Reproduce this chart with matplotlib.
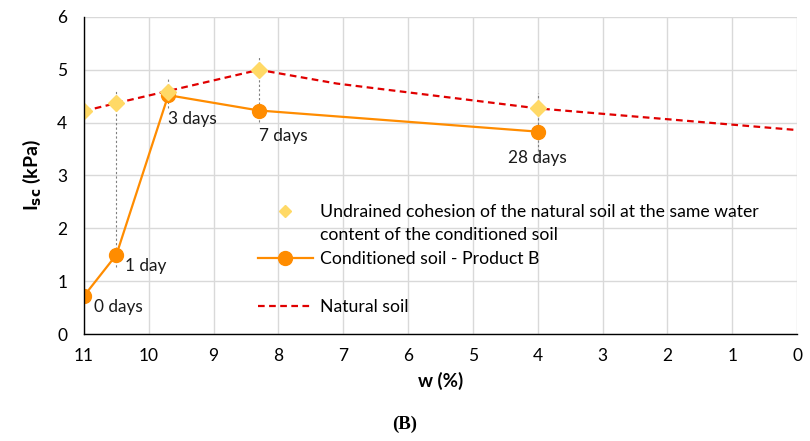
import matplotlib.pyplot as plt
import matplotlib.lines as mlines

plt.rcParams['font.family'] = ['Lato', 'DejaVu Sans']

# conditioned soil (product B), curing time labels
w_cond = [11, 10.5, 9.7, 8.3, 4]
isc_cond = [0.72, 1.50, 4.52, 4.23, 3.83]
day_labels = ["0 days", "1 day", "3 days", "7 days", "28 days"]

# natural soil curve
w_nat = [11, 10.5, 9.7, 8.3, 7.1, 4, 0]
isc_nat = [4.22, 4.37, 4.60, 5.00, 4.74, 4.27, 3.86]

# undrained cohesion of natural soil at same water content
w_cu = [11, 10.5, 9.7, 8.3, 4]
cu_vals = [4.22, 4.37, 4.58, 4.99, 4.27]

# dotted vertical range bars
bar_w = [10.5, 9.7, 8.3, 4]
bar_lo = [1.27, 4.28, 4.01, 3.30]
bar_hi = [4.62, 4.83, 5.25, 4.56]

ORANGE = "#FF8C00"
GOLD = "#FFD966"
RED = "#E00000"
GRID = "#D9D9D9"

fig = plt.figure(figsize=(8.1, 4.41), dpi=100)
ax = fig.add_axes([0.1037, 0.2426, 0.8803, 0.7189])

ax.vlines(bar_w, bar_lo, bar_hi, colors="#7F7F7F", linestyles=(0, (2, 2)),
          linewidth=0.8, zorder=2)

ax.plot(w_nat, isc_nat, color=RED, linestyle=(0, (3, 2)), linewidth=1.6, zorder=3)
ax.plot(w_cond, isc_cond, color=ORANGE, linewidth=1.6, marker="o",
        markersize=10, zorder=4)
ax.plot(w_cu, cu_vals, linestyle="none", marker="D", color=GOLD,
        markersize=8, zorder=5)

offsets = [(7, -8), (6, -8), (0, -17), (0, -18), (0, -19)]
aligns = ["left", "left", "left", "left", "center"]
for x, y, lab, off, ha in zip(w_cond, isc_cond, day_labels, offsets, aligns):
    ax.annotate(lab, (x, y), xytext=off, textcoords="offset points",
                ha=ha, va="center", fontsize=12.4, color="#1a1a1a")

ax.set_xlim(11, 0)
ax.set_ylim(0, 6)
ax.set_xticks(range(11, -1, -1))
ax.set_yticks(range(0, 7))
ax.tick_params(length=0, labelsize=12.5)
ax.tick_params(axis="y", pad=12)
ax.tick_params(axis="x", pad=10)
ax.grid(True, color=GRID, linewidth=1.0)
ax.set_axisbelow(True)
for s in ["top", "right"]:
    ax.spines[s].set_visible(False)
for s in ["left", "bottom"]:
    ax.spines[s].set_color("black")
    ax.spines[s].set_linewidth(1.0)
    ax.spines[s].set_zorder(6)

ax.set_xlabel("w (%)", fontsize=13.5, fontweight="bold", labelpad=6)
ax.set_ylabel(r"I$_{\mathbf{sc}}$ (kPa)", fontsize=14, fontweight="bold", labelpad=10)

h_cu = mlines.Line2D([], [], linestyle="none", marker="D", color=GOLD, markersize=6)
h_cond = mlines.Line2D([], [], color=ORANGE, linewidth=1.6, marker="o", markersize=10)
h_nat = mlines.Line2D([], [], color=RED, linestyle=(0, (3, 2)), linewidth=1.6)
h_blank = mlines.Line2D([], [], linestyle="none")
leg = ax.legend([h_cu, h_blank, h_cond, h_blank, h_nat],
                ["Undrained cohesion of the natural soil at the same water",
                 "content of the conditioned soil",
                 "Conditioned soil - Product B", " ", "Natural soil"],
                loc="upper left", bbox_to_anchor=(0.244, 0.411), frameon=False,
                borderaxespad=0, borderpad=0,
                fontsize=12.7, handlelength=3.1, labelspacing=0.44, handletextpad=0.4)

fig.text(0.5, 0.038, "(B)", ha="center", va="center", family="Liberation Serif",
         fontsize=13.5, fontweight="bold")

fig.savefig("out.png", dpi=100)
